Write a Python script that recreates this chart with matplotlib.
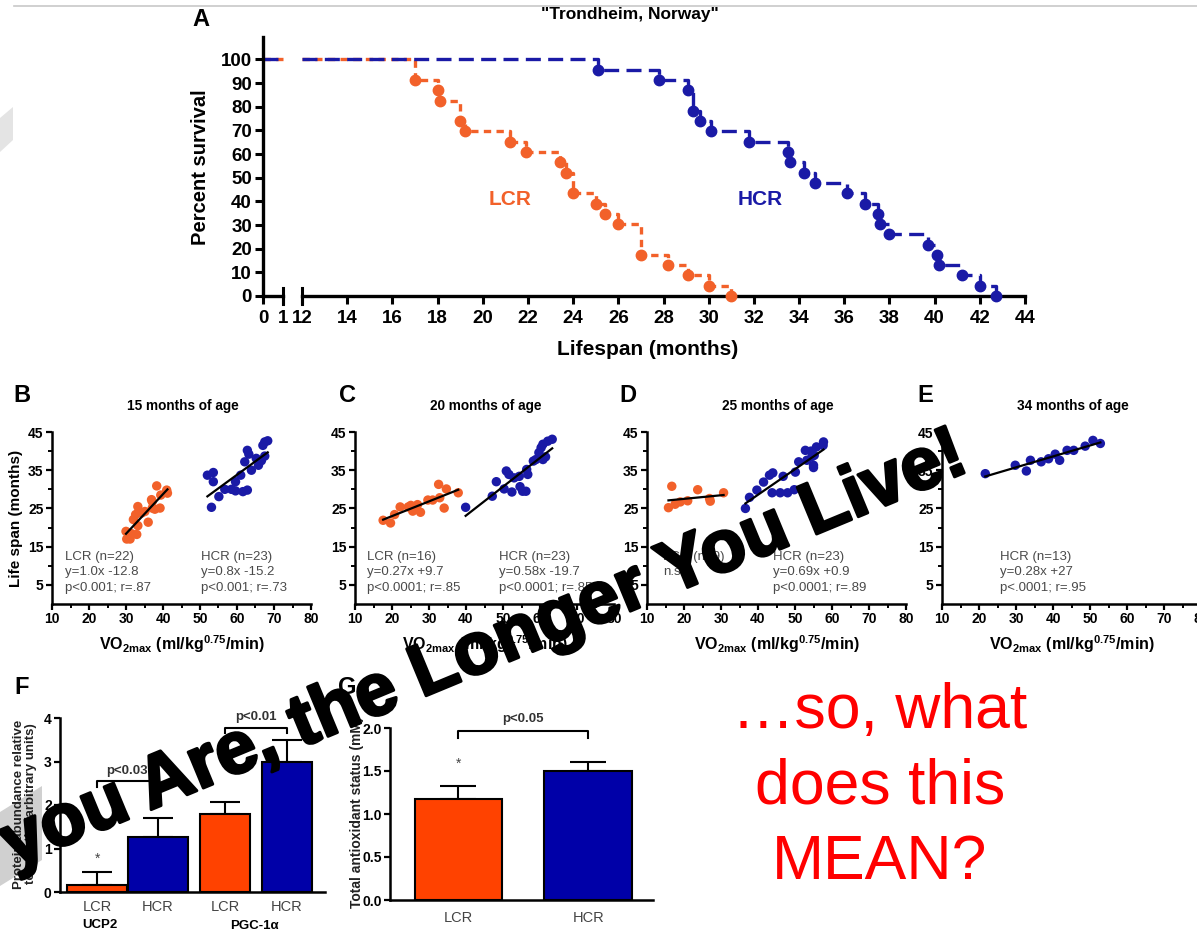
import numpy as np
import matplotlib
matplotlib.use("Agg")
import matplotlib.pyplot as plt
from matplotlib.patches import Polygon
from matplotlib.lines import Line2D
import matplotlib.transforms as mtransforms
import matplotlib.patheffects as pe

plt.rcParams['font.family'] = ['Liberation Sans', 'DejaVu Sans']
plt.rcParams['mathtext.fontset'] = 'custom'
plt.rcParams['mathtext.rm'] = 'Liberation Sans'
plt.rcParams['mathtext.bf'] = 'Liberation Sans:bold'
plt.rcParams['mathtext.it'] = 'Liberation Sans:italic'

# ---------------- data ----------------
# Panel A: Kaplan-Meier survival (months, percent surviving)
LCR_T = [17.0, 18.0, 18.1, 19.0, 19.2, 21.2, 21.9, 23.4, 23.7, 24.0, 25.0, 25.4,
         26.0, 27.0, 28.2, 29.1, 30.0, 31.0]
LCR_S = [91.3, 87.0, 82.6, 73.9, 69.6, 65.2, 60.9, 56.5, 52.2, 43.5, 39.1, 34.8,
         30.4, 17.4, 13.0, 8.7, 4.3, 0.0]
HCR_T = [25.1, 27.8, 29.1, 29.3, 29.6, 30.1, 31.8, 33.5, 33.6, 34.2, 34.7, 36.1,
         36.9, 37.5, 37.6, 38.0, 39.7, 40.1, 40.2, 41.2, 42.0, 42.7]
HCR_S = [95.7, 91.3, 87.0, 78.3, 73.9, 69.6, 65.2, 60.9, 56.5, 52.2, 47.8, 43.5,
         39.1, 34.8, 30.4, 26.1, 21.7, 17.4, 13.0, 8.7, 4.3, 0.0]
A_XTICKS_LEFT = [0, 1]
A_XTICKS_RIGHT = list(range(12, 45, 2))
A_YTICKS = list(range(0, 101, 10))

# Panels B-E: VO2max vs life span
B_LCR_X = [30.0, 30.2, 31.1, 31.5, 32.9, 33.2, 32.0, 33.2, 33.4, 34.2, 36.0, 37.1,
           37.1, 38.3, 37.8, 39.2, 39.4, 41.0, 41.2, 36.9, 35.1, 32.6]
B_LCR_Y = [19.0, 17.0, 17.0, 18.4, 18.2, 20.5, 22.1, 25.5, 24.0, 23.8, 21.4, 26.8,
           25.1, 30.9, 24.8, 25.1, 28.5, 29.8, 29.0, 27.3, 24.2, 23.4]
B_HCR_X = [52.0, 53.6, 53.6, 55.1, 53.1, 56.7, 58.5, 59.6, 59.6, 61.0, 61.6, 62.8,
           62.1, 62.8, 63.2, 63.9, 65.2, 65.8, 66.6, 67.5, 67.0, 68.3, 67.5]
B_HCR_Y = [33.7, 34.4, 32.0, 28.1, 25.3, 30.0, 30.0, 29.6, 32.0, 33.7, 29.4, 29.8,
           37.2, 40.2, 39.2, 35.0, 38.1, 36.3, 37.5, 38.7, 41.5, 42.7, 42.4]

C_LCR_X = [17.6, 19.6, 20.7, 22.2, 24.4, 25.1, 25.6, 26.9, 27.7, 29.7, 31.0, 32.6,
           32.9, 34.1, 34.7, 37.9]
C_LCR_Y = [21.9, 21.2, 23.4, 25.4, 25.4, 25.8, 24.3, 26.0, 24.0, 27.2, 27.2, 31.3,
           27.8, 25.1, 30.1, 29.1]
C_HCR_X = [39.9, 47.1, 48.2, 50.3, 50.9, 51.6, 52.4, 53.0, 54.4, 54.6, 55.3, 56.2,
           56.4, 56.7, 58.2, 58.9, 59.7, 60.8, 60.3, 60.8, 62.1, 63.3, 61.5]
C_HCR_Y = [25.3, 28.2, 32.0, 30.1, 34.8, 33.9, 29.3, 33.0, 33.4, 30.7, 29.5, 29.5,
           35.2, 33.9, 37.4, 37.8, 39.6, 37.8, 40.9, 41.8, 42.6, 43.1, 38.5]

D_LCR_X = [15.8, 16.7, 17.6, 19.0, 21.0, 23.7, 26.9, 27.1, 30.7]
D_LCR_Y = [25.2, 30.8, 26.1, 26.7, 27.0, 29.9, 27.6, 26.9, 29.1]
D_HCR_X = [36.6, 37.7, 39.7, 41.5, 43.1, 44.0, 43.8, 46.0, 46.8, 48.0, 49.8, 50.1,
           51.0, 52.8, 53.2, 54.6, 55.0, 55.0, 55.8, 55.2, 57.7, 57.6, 54.3]
D_HCR_Y = [25.0, 27.9, 29.8, 31.9, 33.7, 34.3, 29.1, 29.1, 33.4, 29.1, 29.9, 34.5,
           37.2, 40.2, 37.6, 38.6, 36.3, 35.7, 41.1, 38.9, 42.4, 41.5, 40.0]

E_HCR_X = [21.7, 29.8, 32.8, 33.9, 36.8, 38.8, 40.6, 41.8, 43.8, 45.6, 48.7, 50.8, 52.8]
E_HCR_Y = [34.1, 36.3, 34.8, 37.6, 37.2, 38.0, 39.2, 37.6, 40.2, 40.2, 41.3, 42.8, 42.0]

B_LCR_TXT = ["LCR (n=22)", "y=1.0x -12.8", "p<0.001; r=.87"]
B_HCR_TXT = ["HCR (n=23)", "y=0.8x -15.2", "p<0.001; r=.73"]
C_LCR_TXT = ["LCR (n=16)", "y=0.27x +9.7", "p<0.0001; r=.85"]
C_HCR_TXT = ["HCR (n=23)", "y=0.58x -19.7", "p<0.0001; r=.85"]
D_LCR_TXT = ["LCR (n=9)", "n.s."]
D_HCR_TXT = ["HCR (n=23)", "y=0.69x +0.9", "p<0.0001; r=.89"]
E_HCR_TXT = ["HCR (n=13)", "y=0.28x +27", "p<.0001; r=.95"]

# Panel F: protein abundance
F_LABELS = ["LCR", "HCR", "LCR", "HCR"]
F_GROUPS = ["UCP2", "PGC-1\u03b1"]
F_MEAN = [0.15, 1.27, 1.80, 3.00]
F_ERR = [0.31, 0.42, 0.28, 0.50]

# Panel G: total antioxidant status
G_LABELS = ["LCR", "HCR"]
G_MEAN = [1.18, 1.50]
G_ERR = [0.15, 0.10]

# ---------------- style ----------------
ORANGE = '#F2612A'
BLUE = '#1a1aa6'
BAR_OR = '#FF4200'
BAR_BL = '#0000A8'
W, H = 1197, 932

fig = plt.figure(figsize=(W / 100, H / 100), dpi=100)
fig.patch.set_facecolor('white')


def axpx(l, t, r, b):
    return fig.add_axes([l / W, 1 - b / H, (r - l) / W, (b - t) / H])


def ftext(x, y, s, **kw):
    return fig.text(x / W, 1 - y / H, s, **kw)


# background decorations
fig.add_artist(Line2D([14 / W, 1], [1 - 6 / H, 1 - 6 / H], color='#c8c8c8', lw=1.2))
fig.add_artist(Polygon([[0, 1 - 118 / H], [13 / W, 1 - 107 / H], [13 / W, 1 - 140 / H],
                        [0, 1 - 152 / H]], closed=True, transform=fig.transFigure,
                       facecolor='#e4e4e4', edgecolor='none'))
fig.add_artist(Polygon([[0, 1 - 812 / H], [42 / W, 1 - 786 / H], [42 / W, 1 - 860 / H],
                        [0, 1 - 886 / H]], closed=True, transform=fig.transFigure,
                       facecolor='#d0d0d0', edgecolor='none'))

# ---------------- Panel A ----------------
a1 = axpx(263, 37, 283, 296)
a2 = axpx(302, 37, 1025, 296)
for ax in (a1, a2):
    ax.set_ylim(0, 109.5)
    ax.set_facecolor('none')
    ax.spines['top'].set_visible(False)
    ax.spines['right'].set_visible(False)
    ax.spines['bottom'].set_linewidth(2.4)
    ax.spines['left'].set_linewidth(2.4)
    ax.tick_params(width=2.2, length=6, labelsize=13.5, pad=2)
a1.set_xlim(0, 1)
a2.set_xlim(12, 44)
a2.spines['left'].set_visible(False)
a2.tick_params(axis='y', left=False, labelleft=False)
a1.set_xticks(A_XTICKS_LEFT)
a2.set_xticks(A_XTICKS_RIGHT)
a1.set_yticks(A_YTICKS)
for ax in (a1, a2):
    ax.set_xticklabels([str(v) for v in ax.get_xticks()], fontweight='bold', fontsize=13.5)
a1.set_yticklabels([str(v) for v in A_YTICKS], fontweight='bold', fontsize=13.5)
a1.tick_params(axis='x', pad=4)
a2.tick_params(axis='x', pad=4)

# break marks
for ax, xv in ((a1, 1), (a2, 12)):
    tr = mtransforms.blended_transform_factory(ax.transData, ax.transAxes)
    ax.plot([xv, xv], [-0.03, 0.03], color='black', lw=2.2, transform=tr, clip_on=False)

# survival curves
a1.plot([0, 1], [100, 100], color=ORANGE, lw=2.4, dashes=(2.2, 1.6), clip_on=False)
a1.plot([0, 1], [100, 100], color=BLUE, lw=2.4, dashes=(4.5, 2.2), clip_on=False)
x0 = a2.get_xlim()[0]
a2.plot([x0] + LCR_T, [100] + LCR_S, drawstyle='steps-post', color=ORANGE, lw=2.4,
        dashes=(2.2, 1.6), clip_on=False)
a2.plot([x0] + HCR_T, [100] + HCR_S, drawstyle='steps-post', color=BLUE, lw=2.4,
        dashes=(4.5, 2.2), clip_on=False)
a2.plot(LCR_T, LCR_S, 'o', color=ORANGE, ms=7.5, clip_on=False, zorder=5)
a2.plot(HCR_T, HCR_S, 'o', color=BLUE, ms=7.5, clip_on=False, zorder=5)

a2.text(21.2, 41, 'LCR', color=ORANGE, fontsize=15, fontweight='bold', ha='center', va='center')
a2.text(32.3, 41, 'HCR', color=BLUE, fontsize=15, fontweight='bold', ha='center', va='center')

ftext(630, 15, '"Trondheim, Norway"', fontsize=12.5, fontweight='bold', ha='center', va='center')
ftext(201, 20, 'A', fontsize=17, fontweight='bold', ha='center', va='center')
ftext(200, 167, 'Percent survival', fontsize=14.5, fontweight='bold', ha='center', va='center',
      rotation=90)
ftext(648, 350, 'Lifespan (months)', fontsize=15, fontweight='bold', ha='center', va='center')

# ---------------- Panels B-E ----------------
XLAB = r'$\mathbf{VO_{2max}}$ $\mathbf{(ml/kg^{0.75}/min)}$'
panels = [
    dict(x0=52, letter='B', lx=22, title='15 months of age',
         groups=[(B_LCR_X, B_LCR_Y, ORANGE), (B_HCR_X, B_HCR_Y, BLUE)],
         texts=[(13.6, B_LCR_TXT), (50.4, B_HCR_TXT)], ylabel=True),
    dict(x0=355, letter='C', lx=347, title='20 months of age',
         groups=[(C_LCR_X, C_LCR_Y, ORANGE), (C_HCR_X, C_HCR_Y, BLUE)],
         texts=[(13.2, C_LCR_TXT), (48.8, C_HCR_TXT)], ylabel=False),
    dict(x0=647, letter='D', lx=628, title='25 months of age',
         groups=[(D_LCR_X, D_LCR_Y, ORANGE), (D_HCR_X, D_HCR_Y, BLUE)],
         texts=[(14.4, D_LCR_TXT), (44.0, D_HCR_TXT)], ylabel=False),
    dict(x0=942, letter='E', lx=925, title='34 months of age',
         groups=[(E_HCR_X, E_HCR_Y, BLUE)],
         texts=[(25.8, E_HCR_TXT)], ylabel=False),
]
for p in panels:
    ax = axpx(p['x0'], 432, p['x0'] + 259, 604)
    ax.set_xlim(10, 80)
    ax.set_ylim(0, 45)
    ax.set_facecolor('none')
    for s in ('top', 'right'):
        ax.spines[s].set_visible(False)
    for s in ('bottom', 'left'):
        ax.spines[s].set_linewidth(1.8)
    ax.set_xticks(range(10, 81, 10))
    ax.set_xticks(range(15, 80, 10), minor=True)
    ax.set_yticks([5, 15, 25, 35, 45])
    ax.set_yticks([10, 20, 30, 40], minor=True)
    ax.tick_params(which='major', width=1.6, length=4, labelsize=10, pad=2)
    ax.tick_params(which='minor', width=1.4, length=3)
    ax.set_xticklabels([str(v) for v in range(10, 81, 10)], fontweight='bold', fontsize=10)
    ax.set_yticklabels(['5', '15', '25', '35', '45'], fontweight='bold', fontsize=10)
    for gx, gy, col in p['groups']:
        ax.scatter(gx, gy, s=46, color=col, edgecolors='none', zorder=3, clip_on=False)
        k, b = np.polyfit(gx, gy, 1)
        xs = np.array([min(gx), max(gx)])
        ax.plot(xs, k * xs + b, color='black', lw=1.6, zorder=4)
    for tx, lines in p['texts']:
        for i, line in enumerate(lines):
            ax.text(tx, 12.3 - 4.0 * i, line, fontsize=9.5, color='#4a4a4a', ha='left',
                    va='center')
    ax.set_xlabel(XLAB, fontsize=11.5, labelpad=5)
    if p['ylabel']:
        ax.set_ylabel('Life span (months)', fontsize=11, fontweight='bold', labelpad=4)
    ftext(p['lx'], 395, p['letter'], fontsize=17, fontweight='bold', ha='center', va='center')
    ftext(p['x0'] + 131, 406, p['title'], fontsize=9.8, fontweight='bold', ha='center',
          va='center')

# ---------------- Panel F ----------------
fax = axpx(60, 718, 325, 892)
fx = [0.62, 1.63, 2.75, 3.78]
fw = [1.0, 1.0, 0.83, 0.83]
fcol = [BAR_OR, BAR_BL, BAR_OR, BAR_BL]
fax.set_xlim(0, 4.42)
fax.set_ylim(0, 4)
fax.set_facecolor('none')
fax.bar(fx, F_MEAN, width=fw, color=fcol, edgecolor='black', linewidth=1.5, zorder=2)
fax.errorbar(fx, F_MEAN, yerr=[np.zeros(4), F_ERR], fmt='none', ecolor='black',
             elinewidth=1.5, capsize=11, capthick=1.5, zorder=1)
for s in ('top', 'right'):
    fax.spines[s].set_visible(False)
for s in ('bottom', 'left'):
    fax.spines[s].set_linewidth(1.8)
fax.set_yticks([0, 1, 2, 3, 4])
fax.set_yticklabels(['0', '1', '2', '3', '4'], fontweight='bold', fontsize=10)
fax.set_xticks(fx)
fax.set_xticklabels(F_LABELS, fontsize=10.5, color='#444444')
fax.tick_params(axis='x', length=0, pad=6)
fax.tick_params(axis='y', width=1.6, length=4, pad=2)
fax.text(fx[0], F_MEAN[0] + F_ERR[0] + 0.3, '*', ha='center', va='center', fontsize=10,
         color='#444444')
fax.text(fx[2], 2.97, '*', ha='center', va='center', fontsize=10, color='#444444')
# significance brackets
fax.plot([fx[0], fx[0], fx[1], fx[1]], [2.42, 2.55, 2.55, 2.42], color='black', lw=1.5)
fax.text((fx[0] + fx[1]) / 2, 2.78, 'p<0.03', ha='center', va='center', fontsize=9.5,
         fontweight='bold', color='#333333')
fax.plot([fx[2], fx[2], fx[3], fx[3]], [3.65, 3.78, 3.78, 3.65], color='black', lw=1.5,
         clip_on=False)
fax.text((fx[2] + fx[3]) / 2, 4.02, 'p<0.01', ha='center', va='center', fontsize=9.5,
         fontweight='bold', color='#333333', clip_on=False)
ftext(100, 925, F_GROUPS[0], fontsize=9.5, fontweight='bold', ha='center', va='center')
ftext(254, 926, F_GROUPS[1], fontsize=9.5, fontweight='bold', ha='center', va='center')
ftext(25, 804, 'Protein abundance relative\nto \u03b1-actin (arbitrary units)', fontsize=9.5,
      fontweight='bold', ha='center', va='center', rotation=90, linespacing=1.05,
      color='#222222')
ftext(22, 688, 'F', fontsize=17, fontweight='bold', ha='center', va='center')

# ---------------- Panel G ----------------
gax = axpx(390, 728, 653, 900)
gx = [0.78, 2.26]
gax.set_xlim(0, 3)
gax.set_ylim(0, 2.0)
gax.set_facecolor('none')
gax.bar(gx, G_MEAN, width=1.0, color=[BAR_OR, BAR_BL], edgecolor='black', linewidth=1.5,
        zorder=2)
gax.errorbar(gx, G_MEAN, yerr=[np.zeros(2), G_ERR], fmt='none', ecolor='black',
             elinewidth=1.5, capsize=13, capthick=1.5, zorder=1)
for s in ('top', 'right'):
    gax.spines[s].set_visible(False)
for s in ('bottom', 'left'):
    gax.spines[s].set_linewidth(1.8)
gax.set_yticks([0, 0.5, 1.0, 1.5, 2.0])
gax.set_yticklabels(['0.0', '0.5', '1.0', '1.5', '2.0'], fontweight='bold', fontsize=10)
gax.set_xticks(gx)
gax.set_xticklabels(G_LABELS, fontsize=10.5, color='#444444')
gax.tick_params(axis='x', length=0, pad=8)
gax.tick_params(axis='y', width=1.6, length=4, pad=2)
gax.text(gx[0], 1.58, '*', ha='center', va='center', fontsize=10, color='#444444')
gax.plot([gx[0], gx[0], gx[1], gx[1]], [1.88, 1.97, 1.97, 1.88], color='black', lw=1.5)
gax.text((gx[0] + gx[1]) / 2, 2.1, 'p<0.05', ha='center', va='center', fontsize=9.5,
         fontweight='bold', color='#333333', clip_on=False)
ftext(357, 812, 'Total antioxidant status (mM)', fontsize=10, fontweight='bold',
      ha='center', va='center', rotation=90, color='#222222')
ftext(347, 688, 'G', fontsize=17, fontweight='bold', ha='center', va='center')

# ---------------- slide text ----------------
for yb, s in ((728, '\u2026so, what'), (804, 'does this'), (879, 'MEAN?')):
    ftext(880, yb, s, fontsize=45, color='#ff0000', ha='center', va='baseline')

ftext(971, 470, 'you Are, the Longer You Live!', fontsize=53, fontweight='bold',
      color='black', ha='right', va='baseline', rotation=22.5, rotation_mode='anchor',
      zorder=20, path_effects=[pe.withStroke(linewidth=2.2, foreground='black')])

fig.savefig('out.png', dpi=100, facecolor='white')
